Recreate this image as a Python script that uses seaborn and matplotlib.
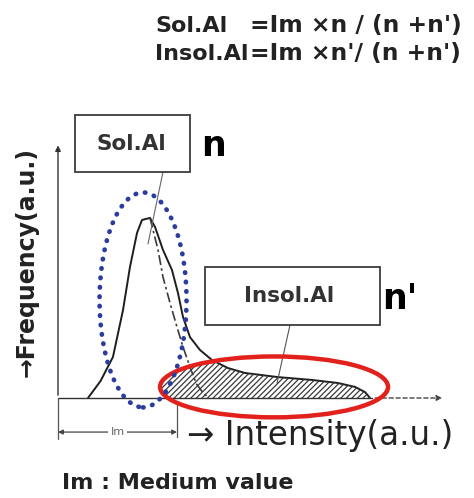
import numpy as np
import matplotlib
matplotlib.use("Agg")
import matplotlib.pyplot as plt
from matplotlib.patches import Ellipse, Rectangle
import seaborn as sns

# ---------------- data (arbitrary units) ----------------
# measured distribution (solid curve)
solid_x = [3.10, 4.40, 5.68, 6.72, 7.44, 8.17, 8.68, 9.51, 10.03, 10.85, 11.78,
           12.40, 12.92, 13.64, 14.68, 15.92, 17.57, 19.33, 22.74, 26.25, 28.94,
           30.70, 31.73, 32.25]
solid_y = [0.00, 0.66, 1.59, 3.41, 5.08, 6.40, 6.90, 6.98, 6.63, 5.74, 4.96,
           4.07, 3.14, 2.36, 1.86, 1.47, 1.16, 0.97, 0.81, 0.70, 0.58,
           0.43, 0.23, 0.00]
# symmetric (soluble) part, right half (dashed curve)
sym_x = [9.51, 10.34, 10.85, 11.58, 12.30, 12.92, 13.64, 14.30, 15.00, 15.60]
sym_y = [6.98, 5.74, 4.69, 3.68, 2.75, 1.98, 1.20, 0.55, 0.20, 0.00]

im_value = 12.30          # medium value Im
x_max, y_max = 40, 10

label_sol = "Sol.Al"
label_insol = "Insol.Al"
formula_left = ["Sol.Al", "Insol.Al"]
formula_right = ["=Im \u00d7n / (n +n')", "=Im \u00d7n'/ (n +n')"]

# ---------------- figure ----------------
sns.set_style("white")
plt.rcParams["font.family"] = ["DejaVu Sans"]
plt.rcParams["hatch.linewidth"] = 0.9
plt.rcParams["hatch.color"] = "#3a3a3a"
W, H = 474, 498
fig = plt.figure(figsize=(W / 100, H / 100), dpi=100)


def fx(px):
    return px / W


def fy(py):
    return 1 - py / H


ax = fig.add_axes([fx(58), fy(398), (445 - 58) / W, (398 - 140) / H])
ax.set_xlim(0, x_max)
ax.set_ylim(0, y_max)
ax.axis("off")

# curves
sns.lineplot(x=solid_x, y=solid_y, ax=ax, color="#1e1e1e", lw=1.4, sort=False)
sns.lineplot(x=sym_x, y=sym_y, ax=ax, color="#3a3a3a", lw=1.2, sort=False,
             linestyle=(0, (6, 2, 1.5, 2)))

# red ellipse marking the insoluble tail
red_ell = Ellipse((22.33, 0.43), 23.57, 2.36, fill=False, edgecolor="#e3211c",
                  lw=3.2, clip_on=False, zorder=5)
ax.add_patch(red_ell)

# hatched area under the tail, inside the red ellipse
gx = np.linspace(solid_x[0], solid_x[-1], 500)
top = np.interp(gx, solid_x, solid_y)
hatch = ax.fill_between(gx, 0, top, facecolor="none", edgecolor="#3a3a3a",
                        hatch="//////", lw=0, zorder=2)
hatch.set_clip_path(red_ell)

# axes lines
ax.plot([0, 32.5], [0, 0], color="#333333", lw=1.0, clip_on=False)
ax.annotate("", xy=(40, 0), xytext=(32.5, 0),
            arrowprops=dict(arrowstyle="-|>", color="#444444", lw=1.0,
                            linestyle=(0, (3, 2)), mutation_scale=8),
            annotation_clip=False)
ax.annotate("", xy=(0, 9.9), xytext=(0, 0),
            arrowprops=dict(arrowstyle="-|>", color="#333333", lw=1.0,
                            mutation_scale=8),
            annotation_clip=False)

# blue dotted ellipse marking the soluble peak
ax.add_patch(Ellipse((8.79, 3.80), 8.99, 8.33, fill=False, edgecolor="#2b3c9e",
                     lw=3.4, linestyle=(0, (0.1, 1.9)), capstyle="round",
                     clip_on=False, zorder=5))

# label boxes
ax.add_patch(Rectangle((1.76, 8.76), 11.88, 2.21, facecolor="white",
                       edgecolor="#3c3c3c", lw=1.3, clip_on=False, zorder=6))
ax.text(7.6, 9.86, label_sol, ha="center", va="center", fontsize=15.5,
        fontweight="bold", color="#333333", zorder=7)
ax.text(16.1, 9.77, "n", ha="center", va="center", fontsize=25,
        fontweight="bold", color="black", zorder=7)
ax.add_patch(Rectangle((15.19, 2.83), 18.09, 2.25, facecolor="white",
                       edgecolor="#3c3c3c", lw=1.3, clip_on=False, zorder=6))
ax.text(23.9, 3.95, label_insol, ha="center", va="center", fontsize=15.5,
        fontweight="bold", color="#333333", zorder=7)
ax.text(35.3, 3.85, "n'", ha="center", va="center", fontsize=25,
        fontweight="bold", color="black", zorder=7)

# leader lines
ax.plot([10.85, 9.30], [8.76, 5.97], color="#666666", lw=0.8, zorder=4)
ax.plot([23.98, 22.64], [2.83, 0.58], color="#555555", lw=0.8, zorder=4)

# Im dimension
ax.plot([0, 0], [0, -1.6], color="#555555", lw=0.9, clip_on=False)
ax.plot([im_value, im_value], [-0.25, -1.5], color="#555555", lw=0.9,
        clip_on=False)
ax.annotate("", xy=(0, -1.32), xytext=(im_value, -1.32),
            arrowprops=dict(arrowstyle="<|-|>", color="#444444", lw=0.9,
                            mutation_scale=7, shrinkA=0, shrinkB=0),
            annotation_clip=False)
ax.text(im_value / 2, -1.32, "Im", ha="center", va="center", fontsize=8,
        color="#666666", bbox=dict(facecolor="white", edgecolor="none", pad=1.5),
        zorder=7)

# axis titles and captions
fig.text(fx(187), fy(445), "\u2192 Intensity(a.u.)", fontsize=23.5,
         color="#222222", ha="left", va="baseline")
fig.text(fx(27), fy(262), "\u2192Frequency(a.u.)", fontsize=17,
         fontweight="bold", color="#222222", rotation=90, ha="center",
         va="center")
fig.text(fx(62), fy(489), "Im : Medium value", fontsize=16, fontweight="bold",
         color="#222222", ha="left", va="baseline")

# formulas
for i, (lt, rt) in enumerate(zip(formula_left, formula_right)):
    base = 32 + 28 * i
    fig.text(fx(155), fy(base), lt, fontsize=16, fontweight="bold",
             color="#222222", ha="left", va="baseline")
    fig.text(fx(250), fy(base), rt, fontsize=16.8, fontweight="bold",
             color="#222222", ha="left", va="baseline")

fig.savefig("out.png", dpi=100)
